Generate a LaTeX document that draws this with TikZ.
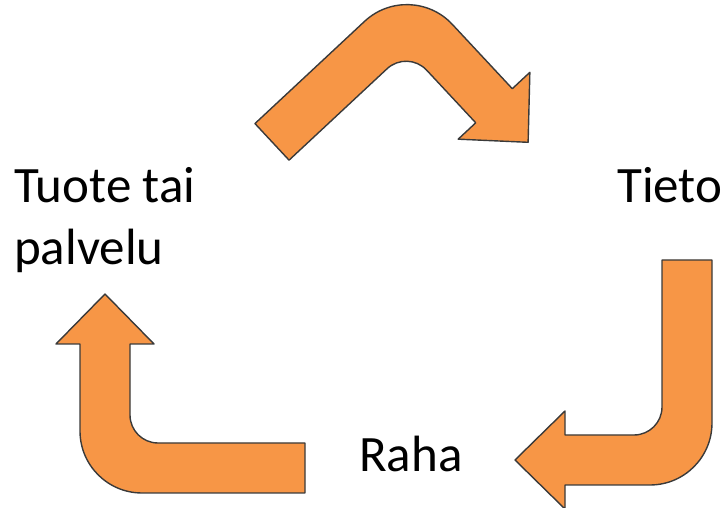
\documentclass[tikz,border=0pt]{standalone}
\usepackage{fontspec}
\setmainfont{Carlito}
\definecolor{arroworange}{HTML}{F79646}
\definecolor{arrowedge}{HTML}{3A3A3A}
\tikzset{
  bentbody/.style={fill=arroworange, draw=arrowedge, line width=1.4pt, line join=round},
  cycletext/.style={inner sep=0pt, font=\fontsize{51}{62}\selectfont, align=left}
}

\begin{document}
\begin{tikzpicture}[x=1pt,y=1pt]
\useasboundingbox (0,0) rectangle (726,508);

\foreach \px/\py/\rot/\tl/\hl in {80/15/0/225/149, 712/23/90/225/147, 410/529/223/212/150}
	{\begin{scope}[shift={(\px,\py)},rotate=\rot]
	\draw[bentbody] (\tl,0) -- (62,0) arc[start angle=270,end angle=180,radius=62]
		-- (0,\hl) -- (-24,\hl) -- (25,\hl+50) -- (74,\hl) -- (50,\hl)
		-- (50,78) arc[start angle=180,end angle=270,radius=28] -- (\tl,50) -- cycle;
	\end{scope}}

\node[cycletext, anchor=base west] (tuote) at (14,243) {Tuote tai\\palvelu};
\node[cycletext, anchor=base west] (tieto) at (617,305) {Tieto};
\node[cycletext, anchor=base west] (raha) at (359,36) {Raha};
\end{tikzpicture}
\end{document}
